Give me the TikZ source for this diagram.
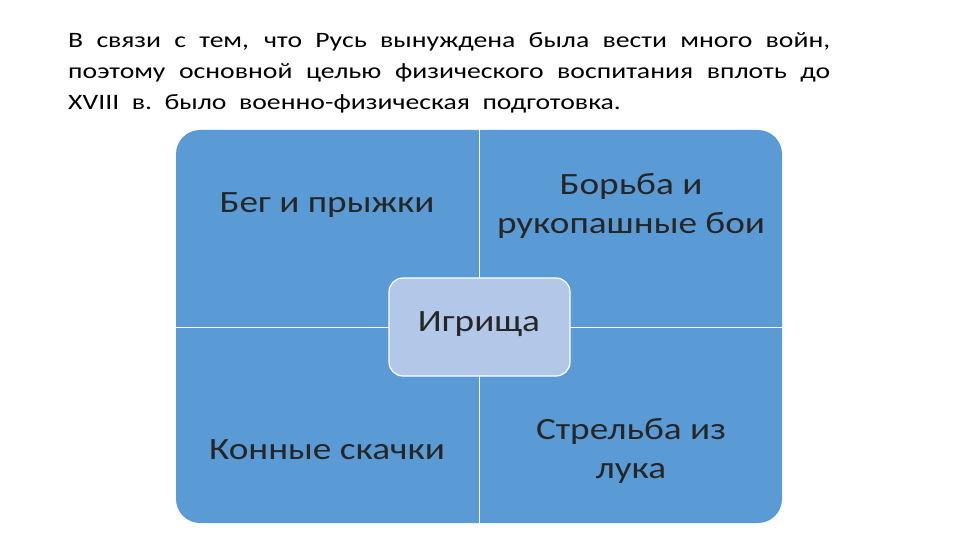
\documentclass[tikz,border=0pt]{standalone}
\usepackage{fontspec}
\setmainfont[FakeStretch=1.2]{Carlito}
\newfontfamily\parafont[FakeStretch=1.26]{Carlito}
\definecolor{qblue}{HTML}{5B9BD5}
\definecolor{cblue}{HTML}{B3C8E8}
\definecolor{txt}{HTML}{262626}
\begin{document}
\begin{tikzpicture}[x=1pt,y=-1pt,
  lab/.style={text=txt,font=\fontsize{31}{39}\selectfont,align=center},
  para/.style={text=black,font=\parafont\fontsize{22}{24}\selectfont,anchor=west,inner sep=0}]
\useasboundingbox (0,0) rectangle (960,540);
\node[para] (l1) at (68,42) {\makebox[762pt][s]{В связи с тем, что Русь вынуждена была вести много войн,}};
\node[para] (l2) at (68,73) {\makebox[762pt][s]{поэтому основной целью физического воспитания вплоть до}};
\node[para] (l3) at (68,104) {XVIII\ \ в.\ \ было\ \ военно-физическая\ \ подготовка.};
\fill[qblue,rounded corners=24] (176,130) rectangle (782,523);
\draw[white,line width=0.8] (479,130) -- (479,523) (176,327) -- (782,327);
\node[draw=white,line width=1.2,fill=cblue,rounded corners=14,minimum width=181,minimum height=98] (c) at (479.5,327) {};
\node[lab] (ct) at (479,324) {Игрища};
\node[lab] (q1) at (327,205) {Бег и прыжки};
\node[lab] (q2) at (631,206) {Борьба и\\рукопашные бои};
\node[lab] (q3) at (327,450) {Конные скачки};
\node[lab] (q4) at (631,451) {Стрельба из\\лука};
\end{tikzpicture}
\end{document}
